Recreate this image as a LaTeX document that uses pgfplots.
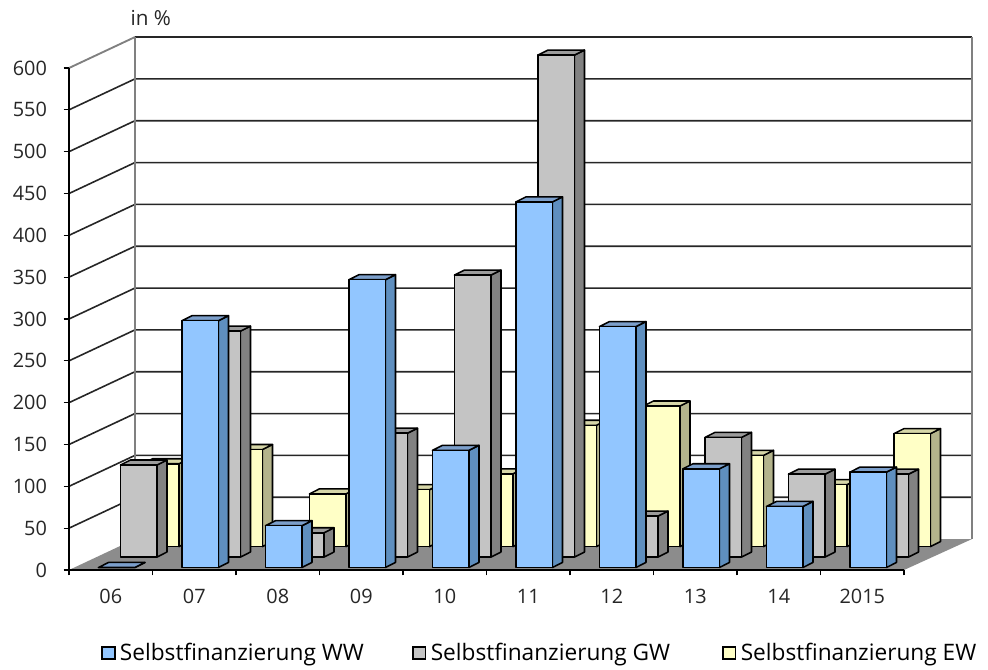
\documentclass[border=0pt]{standalone}
\usepackage{fontspec}
\setmainfont{Open Sans}
\usepackage{pgfplots}
\usepackage{pgfplotstable}
\pgfplotsset{compat=1.18}

\definecolor{wwfront}{HTML}{92C6FF}
\definecolor{wwside}{HTML}{5F8FBF}
\definecolor{wwtop}{HTML}{7C9FCB}
\definecolor{gwfront}{HTML}{C4C4C4}
\definecolor{gwside}{HTML}{828282}
\definecolor{gwtop}{HTML}{9C9C9C}
\definecolor{ewfront}{HTML}{FFFFC6}
\definecolor{ewside}{HTML}{B4B48C}
\definecolor{ewtop}{HTML}{D6D6A8}
\definecolor{floorgrey}{HTML}{8C8C8C}

% Financing ratios in percent per year
\pgfplotstableread{
ww    gw    ew
0     110   99
295   270   116
50    29    63
344   148   68
140   337   87
437   600   145
288   49    168
118   143   109
73    99    74
114   99    135
}\ratios

% Oblique depth: each row of bars sits further back by this shift
\def\rowdx{0.2635}
\def\rowdy{12.5}

\newcommand{\drawbar}[4]{% category, row, value, colour prefix
  \pgfmathsetmacro{\xa}{0.353+#1+\rowdx*#2}
  \pgfmathsetmacro{\xb}{\xa+0.437}
  \pgfmathsetmacro{\xc}{\xb+0.12}
  \pgfmathsetmacro{\ya}{3+\rowdy*#2}
  \pgfmathsetmacro{\yb}{\ya+#3}
  \pgfmathsetmacro{\xd}{\xa+0.12}
  \pgfmathsetmacro{\yc}{\ya+6}
  \pgfmathsetmacro{\yd}{\yb+6}
  \edef\faces{%
    \noexpand\addplot[barline,fill=#4side] coordinates {(\xb,\ya) (\xc,\yc) (\xc,\yd) (\xb,\yb)} -- cycle;
    \noexpand\addplot[barline,fill=#4top] coordinates {(\xa,\yb) (\xb,\yb) (\xc,\yd) (\xd,\yd)} -- cycle;
    \noexpand\addplot[barline,fill=#4front] coordinates {(\xa,\ya) (\xb,\ya) (\xb,\yb) (\xa,\yb)} -- cycle;
  }\faces
}

\newcommand{\drawrow}[3]{% column, row, colour prefix
  \pgfplotsforeachungrouped \c in {0,...,9}{%
    \pgfplotstablegetelem{\c}{#1}\of\ratios
    \edef\val{\pgfplotsretval}%
    \drawbar{\c}{#2}{\val}{#3}%
  }%
}

\begin{document}
\begin{tikzpicture}
\path[use as bounding box] (-51.75pt,-74.25pt) rectangle (689.25pt,427.5pt);
\begin{axis}[
  scale only axis,
  width=626.25pt,
  height=376.5pt,
  xmin=0, xmax=10,
  ymin=0, ymax=600,
  clip=false,
  axis on top,
  axis x line=bottom,
  axis y line=left,
  axis line style={-, line width=1.2pt, black},
  xtick={0,...,10},
  x tick label as interval,
  xticklabels={06,07,08,09,10,11,12,13,14,2015},
  ytick={0,50,...,600},
  tick style={black, line width=0.9pt},
  tick align=outside,
  major tick length=4pt,
  ticklabel style={font=\fontsize{14.9}{17}\selectfont, text=black!85},
  /pgf/number format/assume math mode=true,
  xticklabel style={yshift=-7pt},
  yticklabel style={xshift=-9pt},
  barline/.style={forget plot, draw=black, line width=1.15pt, line join=round},
  gridline/.style={forget plot, draw=black!85, line width=1.2pt},
  wallline/.style={forget plot, draw=black!50, line width=1.4pt},
  legend columns=3,
  legend style={
    at={(0.0383,-0.1653)}, anchor=west, draw=none, fill=none, inner sep=0pt,
    font=\fontsize{17}{20}\selectfont,
    /tikz/column 1/.style={column sep=1.3pt},
    /tikz/column 2/.style={column sep=34.25pt},
    /tikz/column 3/.style={column sep=1.3pt},
    /tikz/column 4/.style={column sep=37pt},
    /tikz/column 5/.style={column sep=1.3pt},
  },
]
% Walls and gridlines
\addplot[gridline] coordinates {(0,50) (0.79,87) (10.814,87)};
\addplot[gridline] coordinates {(0,100) (0.79,137) (10.814,137)};
\addplot[gridline] coordinates {(0,150) (0.79,187) (10.814,187)};
\addplot[gridline] coordinates {(0,200) (0.79,237) (10.814,237)};
\addplot[gridline] coordinates {(0,250) (0.79,287) (10.814,287)};
\addplot[gridline] coordinates {(0,300) (0.79,337) (10.814,337)};
\addplot[gridline] coordinates {(0,350) (0.79,387) (10.814,387)};
\addplot[gridline] coordinates {(0,400) (0.79,437) (10.814,437)};
\addplot[gridline] coordinates {(0,450) (0.79,487) (10.814,487)};
\addplot[gridline] coordinates {(0,500) (0.79,537) (10.814,537)};
\addplot[gridline] coordinates {(0,550) (0.79,587) (10.814,587)};
\addplot[gridline] coordinates {(0.79,637) (10.814,637)};
\addplot[wallline] coordinates {(0,600) (0.79,637)};
\addplot[wallline] coordinates {(0.79,37) (0.79,637)};
\addplot[wallline] coordinates {(10.814,37) (10.814,637)};
% Floor
\addplot[forget plot, fill=floorgrey, draw=none] coordinates {(0,0) (10,0) (10.814,37) (0.79,37)} -- cycle;
% Bars, back row first
\drawrow{ew}{2}{ew}
\drawrow{gw}{1}{gw}
\drawrow{ww}{0}{ww}
% Legend
\addlegendimage{legend image code/.code={\draw[black,line width=1.3pt,fill=wwfront] (0pt,-4.6pt) rectangle (9.4pt,4.6pt);}}
\addlegendentry{Selbstfinanzierung WW}
\addlegendimage{legend image code/.code={\draw[black,line width=1.3pt,fill=gwfront] (0pt,-4.6pt) rectangle (9.4pt,4.6pt);}}
\addlegendentry{Selbstfinanzierung GW}
\addlegendimage{legend image code/.code={\draw[black,line width=1.3pt,fill=ewfront] (0pt,-4.6pt) rectangle (9.4pt,4.6pt);}}
\addlegendentry{Selbstfinanzierung EW}
\node[anchor=base, font=\fontsize{15.5}{18}\selectfont, text=black!85] at (axis cs:0.98,651) {in \%};
\end{axis}
\end{tikzpicture}
\end{document}
